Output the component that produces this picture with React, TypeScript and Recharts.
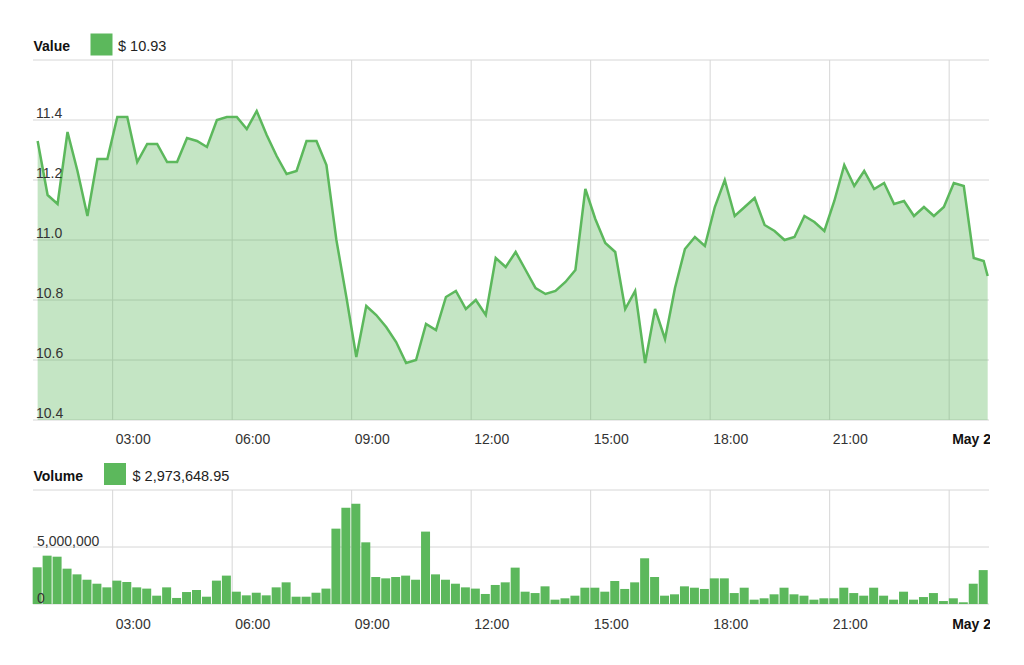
import React from 'react';
import { AreaChart, Area, BarChart, Bar, XAxis, YAxis, CartesianGrid } from 'recharts';

// Sample times (15-minute steps, last one is the live point)
const TIMES = [
  '01:07', '01:22', '01:37', '01:52', '02:07', '02:22', '02:37', '02:52',
  '03:07', '03:22', '03:37', '03:52', '04:07', '04:22', '04:37', '04:52',
  '05:07', '05:22', '05:37', '05:52', '06:07', '06:22', '06:37', '06:52',
  '07:07', '07:22', '07:37', '07:52', '08:07', '08:22', '08:37', '08:52',
  '09:07', '09:22', '09:37', '09:52', '10:07', '10:22', '10:37', '10:52',
  '11:07', '11:22', '11:37', '11:52', '12:07', '12:22', '12:37', '12:52',
  '13:07', '13:22', '13:37', '13:52', '14:07', '14:22', '14:37', '14:52',
  '15:07', '15:22', '15:37', '15:52', '16:07', '16:22', '16:37', '16:52',
  '17:07', '17:22', '17:37', '17:52', '18:07', '18:22', '18:37', '18:52',
  '19:07', '19:22', '19:37', '19:52', '20:07', '20:22', '20:37', '20:52',
  '21:07', '21:22', '21:37', '21:52', '22:07', '22:22', '22:37', '22:52',
  '23:07', '23:22', '23:37', '23:52', '00:07', '00:22', '00:37', '00:52',
  '00:58',
];

const VALUES = [
  11.33, 11.15, 11.12, 11.36, 11.23, 11.08, 11.27, 11.27,
  11.41, 11.41, 11.26, 11.32, 11.32, 11.26, 11.26, 11.34,
  11.33, 11.31, 11.40, 11.41, 11.41, 11.37, 11.43, 11.35,
  11.28, 11.22, 11.23, 11.33, 11.33, 11.25, 11.00, 10.81,
  10.61, 10.78, 10.75, 10.71, 10.66, 10.59, 10.60, 10.72,
  10.70, 10.81, 10.83, 10.77, 10.80, 10.75, 10.94, 10.91,
  10.96, 10.90, 10.84, 10.82, 10.83, 10.86, 10.90, 11.17,
  11.07, 10.99, 10.96, 10.77, 10.83, 10.59, 10.77, 10.67,
  10.84, 10.97, 11.01, 10.98, 11.11, 11.20, 11.08, 11.11,
  11.14, 11.05, 11.03, 11.00, 11.01, 11.08, 11.06, 11.03,
  11.13, 11.25, 11.18, 11.23, 11.17, 11.19, 11.12, 11.13,
  11.08, 11.11, 11.08, 11.11, 11.19, 11.18, 10.94, 10.93,
  10.88,
];

const VOLUMES = [
  3220000, 4240000, 4150000, 3100000, 2600000, 2130000, 1780000, 1460000,
  2050000, 1930000, 1460000, 1350000, 730000, 1460000, 530000, 1050000,
  1230000, 640000, 2050000, 2490000, 1080000, 760000, 990000, 760000,
  1460000, 1900000, 640000, 640000, 990000, 1350000, 6610000, 8450000,
  8800000, 5410000, 2370000, 2250000, 2370000, 2490000, 2130000, 6350000,
  2600000, 2130000, 1780000, 1460000, 1350000, 880000, 1670000, 1900000,
  3190000, 1080000, 960000, 1550000, 380000, 500000, 730000, 1430000,
  1430000, 1080000, 2020000, 1320000, 1900000, 4010000, 2370000, 730000,
  850000, 1550000, 1430000, 1320000, 2250000, 2250000, 960000, 1430000,
  380000, 500000, 850000, 1430000, 850000, 730000, 380000, 500000,
  500000, 1430000, 960000, 730000, 1430000, 730000, 380000, 1080000,
  380000, 610000, 960000, 260000, 500000, 150000, 1780000, 2973648.95,
];

const X_TICK_LABELS = ['03:00', '06:00', '09:00', '12:00', '15:00', '18:00', '21:00', 'May 2'];
const X_TICKS = [180, 360, 540, 720, 900, 1080, 1260, 1440];
const X_DOMAIN = [60, 1500];
const VALUE_TICKS = [10.4, 10.6, 10.8, 11.0, 11.2, 11.4, 11.6];
const VOLUME_TICKS = [0, 5000000, 10000000];

const VALUE_LEGEND = '$ 10.93';
const VOLUME_LEGEND = '$ 2,973,648.95';

// build minute offsets (wrap after midnight)
const MINUTES: number[] = [];
TIMES.forEach((s, i) => {
  const [h, m] = s.split(':').map(Number);
  let v = h * 60 + m;
  if (i > 0 && v < MINUTES[i - 1] - 720) v += 1440;
  MINUTES.push(v);
});

const valueData = VALUES.map((v, i) => ({ t: MINUTES[i], v }));
const volumeData = VOLUMES.map((vol, i) => ({ t: MINUTES[i], vol }));

const GREEN = '#5cb85c';
const GRID = '#d6d6d6';
const FONT = '"Liberation Sans", Arial, Helvetica, sans-serif';
const PLOT_LEFT = 33;
const PLOT_RIGHT = 989;

const makeXTick = (baseline: number) => (props: any) => {
  const { x, payload } = props;
  const idx = X_TICKS.indexOf(payload.value);
  const label = X_TICK_LABELS[idx] ?? '';
  const bold = label === 'May 2';
  return (
    <svg x={0} y={0} width={PLOT_RIGHT + 1} height={700} overflow="hidden">
      <text
        x={x + 3}
        y={baseline}
        textAnchor="start"
        fontFamily={FONT}
        fontSize={14}
        fontWeight={bold ? 700 : 400}
        fill={bold ? '#111' : '#333'}
      >
        {label}
      </text>
    </svg>
  );
};

const makeYTick = (left: number, lift: number, hideValue: number, fmt: (v: number) => string) => (props: any) => {
  const { y, payload } = props;
  if (payload.value === hideValue) return <g />;
  return (
    <text x={left} y={y - lift} textAnchor="start" fontFamily={FONT} fontSize={14} fill="#333">
      {fmt(payload.value)}
    </text>
  );
};

const verticalGen = (props: any) => {
  const scale = props?.xAxis?.scale;
  if (typeof scale === 'function') return X_TICKS.map((t) => scale(t));
  const w = PLOT_RIGHT - PLOT_LEFT;
  return X_TICKS.map((t) => PLOT_LEFT + ((t - X_DOMAIN[0]) / (X_DOMAIN[1] - X_DOMAIN[0])) * w);
};

export default function App() {
  return (
    <div style={{ position: 'absolute', left: 0, top: 0, width: 1024, height: 665, background: '#fff', fontFamily: FONT }}>
      <div style={{ position: 'absolute', left: 0, top: 0 }}>
        <AreaChart width={1024} height={460} data={valueData} margin={{ top: 60, right: 35, bottom: 0, left: 0 }}>
          <CartesianGrid stroke={GRID} strokeWidth={1} verticalCoordinatesGenerator={verticalGen} />
          <Area
            type="linear"
            dataKey="v"
            stroke={GREEN}
            strokeWidth={2.5}
            fill={GREEN}
            fillOpacity={0.36}
            dot={false}
            activeDot={false}
            isAnimationActive={false}
          />
          <XAxis
            dataKey="t"
            type="number"
            domain={X_DOMAIN}
            ticks={X_TICKS}
            axisLine={false}
            tickLine={false}
            height={40}
            interval={0}
            tick={makeXTick(444)}
          />
          <YAxis
            type="number"
            domain={[10.4, 11.6]}
            ticks={VALUE_TICKS}
            axisLine={false}
            tickLine={false}
            width={PLOT_LEFT}
            interval={0}
            allowDataOverflow
            tick={makeYTick(36, 2, 11.6, (v) => v.toFixed(1))}
          />
        </AreaChart>
      </div>
      <div style={{ position: 'absolute', left: 0, top: 460 }}>
        <BarChart width={1024} height={200} data={volumeData} margin={{ top: 30, right: 35, bottom: 0, left: 0 }}>
          <CartesianGrid stroke={GRID} strokeWidth={1} verticalCoordinatesGenerator={verticalGen} />
          <Bar dataKey="vol" fill={GREEN} barSize={9} isAnimationActive={false} />
          <XAxis
            dataKey="t"
            type="number"
            domain={X_DOMAIN}
            ticks={X_TICKS}
            axisLine={false}
            tickLine={false}
            height={56}
            interval={0}
            tick={makeXTick(169)}
          />
          <YAxis
            type="number"
            domain={[0, 10000000]}
            ticks={VOLUME_TICKS}
            axisLine={false}
            tickLine={false}
            width={PLOT_LEFT}
            interval={0}
            tick={makeYTick(37, 1.5, 10000000, (v) => v.toLocaleString('en-US'))}
          />
        </BarChart>
      </div>
      <svg width={1024} height={665} style={{ position: 'absolute', left: 0, top: 0, pointerEvents: 'none' }}>
        <text x={33.5} y={50.5} fontFamily={FONT} fontSize={14} fontWeight={700} fill="#111">Value</text>
        <rect x={90.5} y={33.5} width={22} height={22} fill={GREEN} />
        <text x={118} y={50.5} fontFamily={FONT} fontSize={14.5} fill="#222">{VALUE_LEGEND}</text>
        <text x={33.5} y={480.5} fontFamily={FONT} fontSize={14} fontWeight={700} fill="#111">Volume</text>
        <rect x={104} y={463} width={22} height={22} fill={GREEN} />
        <text x={132.5} y={480.5} fontFamily={FONT} fontSize={14.5} fill="#222">{VOLUME_LEGEND}</text>
      </svg>
    </div>
  );
}
